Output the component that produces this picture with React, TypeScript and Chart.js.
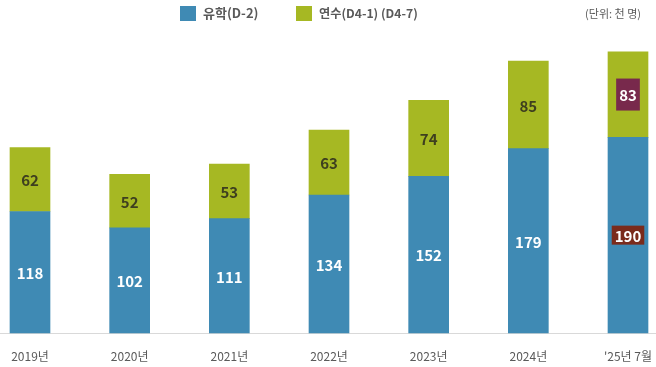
import React, { useEffect, useRef } from "react";
import { Chart, registerables } from "chart.js";

Chart.register(...registerables);

const categories = ["2019년", "2020년", "2021년", "2022년", "2023년", "2024년", "'25년 7월"];
const studyValues = [118, 102, 111, 134, 152, 179, 190];
const trainingValues = [62, 52, 53, 63, 74, 85, 83];
const seriesNames = ["유학(D-2)", "연수(D4-1) (D4-7)"];
const unitLabel = "(단위: 천 명)";

const BLUE = "#3f8ab4";
const GREEN = "#a6b823";
const FONT = '"Noto Sans CJK KR", "Noto Sans", sans-serif';

const overlayPlugin = {
  id: "overlay",
  beforeDraw(chart: any) {
    const { ctx, chartArea } = chart;
    ctx.save();
    ctx.strokeStyle = "#d9d9d9";
    ctx.lineWidth = 1;
    ctx.beginPath();
    ctx.moveTo(0, Math.round(chartArea.bottom) + 0.5);
    ctx.lineTo(chart.width, Math.round(chartArea.bottom) + 0.5);
    ctx.stroke();

    // legend
    ctx.textBaseline = "middle";
    ctx.textAlign = "left";
    const xs = [180, 296];
    const y = 13;
    chart.data.datasets.forEach((d: any, i: number) => {
      const x = xs[i];
      ctx.fillStyle = d.backgroundColor;
      ctx.fillRect(x, y - 7, 16, 15);
      ctx.fillStyle = "#595959";
      ctx.font = `bold ${i === 0 ? 13 : 12.2}px ${FONT}`;
      ctx.fillText(d.label, x + 23, y);
    });

    ctx.font = `11px ${FONT}`;
    ctx.textAlign = "right";
    ctx.fillStyle = "#595959";
    ctx.fillText(unitLabel, 641, 14);
    ctx.restore();
  },
  afterDatasetsDraw(chart: any) {
    const { ctx } = chart;
    ctx.save();
    ctx.font = `bold 15px ${FONT}`;
    ctx.textAlign = "center";
    ctx.textBaseline = "middle";
    chart.data.datasets.forEach((ds: any, di: number) => {
      const meta = chart.getDatasetMeta(di);
      meta.data.forEach((el: any, i: number) => {
        const cx = el.x;
        const cy = (el.y + el.base) / 2;
        const txt = String(ds.data[i]);
        const last = i === ds.data.length - 1;
        if (last) {
          const w = ctx.measureText(txt).width + 6;
          const h = di === 0 ? 19 : 32;
          ctx.fillStyle = di === 0 ? "#7a2b1c" : "#78294c";
          ctx.fillRect(cx - w / 2, cy - h / 2, w, h);
          ctx.fillStyle = "#ffffff";
        } else {
          ctx.fillStyle = di === 0 ? "#ffffff" : "#3e3f1f";
        }
        ctx.fillText(txt, cx, cy + 1);
      });
    });
    ctx.restore();
  },
};

export default function App() {
  const ref = useRef<HTMLCanvasElement>(null);
  useEffect(() => {
    if (!ref.current) return;
    const chart = new Chart(ref.current, {
      type: "bar",
      data: {
        labels: categories,
        datasets: [
          { label: seriesNames[0], data: studyValues, backgroundColor: BLUE, barThickness: 40, clip: false as any },
          { label: seriesNames[1], data: trainingValues, backgroundColor: GREEN, barThickness: 40, clip: false as any },
        ],
      },
      options: {
        animation: false,
        responsive: false,
        maintainAspectRatio: false,
        layout: { padding: { top: 24, left: 30, right: 28, bottom: 0 } },
        plugins: { legend: { display: false }, tooltip: { enabled: false } },
        scales: {
          x: {
            stacked: true,
            offset: false,
            grid: { display: false, drawTicks: true, tickLength: 16 },
            border: { display: false },
            ticks: { color: "#595959", font: { size: 12, family: FONT }, padding: 0, maxRotation: 0, autoSkip: false },
            afterFit(scale: any) {
              scale.height = 34;
            },
          },
          y: {
            stacked: true,
            display: false,
            min: 0,
            max: 300,
          },
        },
      },
      plugins: [overlayPlugin],
    });
    return () => chart.destroy();
  }, []);
  return (
    <div style={{ position: "fixed", left: 0, top: 0, width: 656, height: 367, background: "#fff" }}>
      <canvas ref={ref} width={656} height={367} style={{ width: 656, height: 367 }} />
    </div>
  );
}
